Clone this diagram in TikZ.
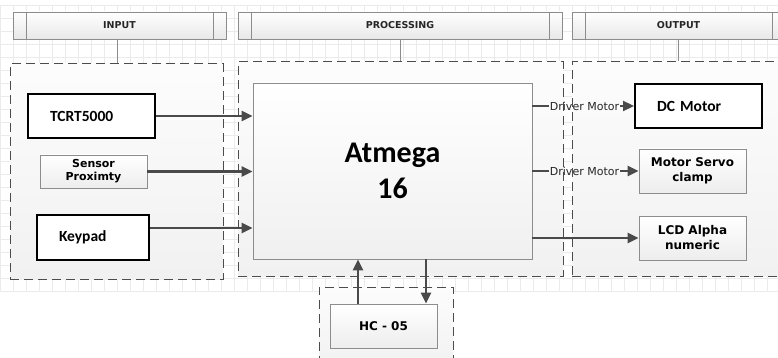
\documentclass[tikz,border=0pt]{standalone}
\usepackage{fontspec}
\setmainfont{DejaVu Sans}
\newfontfamily\calib{Carlito}
\usetikzlibrary{arrows.meta}
\definecolor{GridGrey}{HTML}{EBEBEB}
\definecolor{LineGrey}{HTML}{4A4A4A}
\definecolor{EdgeGrey}{HTML}{8C8C8C}

\begin{document}
\begin{tikzpicture}[x=1pt, y=-1pt,
    gridline/.style={GridGrey, line width=0.5pt},
    hdr/.style={draw=EdgeGrey, line width=0.8pt, top color=white, bottom color=gray!18,
                minimum height=27pt, inner sep=0pt, text=black!85,
                font=\bfseries\fontsize{9.5}{11}\selectfont},
    panel/.style={draw=black!70, line width=1pt, dash pattern=on 9pt off 5pt,
                  top color=gray!2, bottom color=gray!11, inner sep=0pt},
    thickbox/.style={draw=black, line width=2pt, fill=white, align=left,
                     inner xsep=22pt, inner ysep=0pt,
                     font=\calib\bfseries\fontsize{15.5}{18}\selectfont},
    softbox/.style={draw=EdgeGrey, line width=0.8pt, top color=white, bottom color=gray!14,
                    align=center, inner sep=0pt,
                    font=\bfseries\fontsize{12}{15}\selectfont},
    dlabel/.style={inner sep=1pt, text=black!85, font=\fontsize{11}{12}\selectfont},
    arr/.style={LineGrey, line width=2.2pt, -{Triangle[length=11pt, width=10pt]}}]
  \clip (0,0) rectangle (778,358);
  \fill[white] (0,0) rectangle (778,358);
  \foreach \gx in {0,13,...,778} \draw[gridline] (\gx,5) -- (\gx,292);
  \foreach \gy in {5,18,...,292} \draw[gridline] (0,\gy) -- (778,\gy);

  \node[hdr, minimum width=213pt] (hin)  at (119.5,25.5) {INPUT};
  \node[hdr, minimum width=324pt] (hpr)  at (400,25.5)   {PROCESSING};
  \node[hdr, minimum width=213pt] (hout) at (678.5,25.5) {OUTPUT};
  \foreach \h in {hin,hpr,hout} {
    \draw[EdgeGrey, line width=0.8pt] ([xshift=14pt]\h.north west) -- ([xshift=14pt]\h.south west);
    \draw[EdgeGrey, line width=0.8pt] ([xshift=-13pt]\h.north east) -- ([xshift=-13pt]\h.south east);
  }

  \node[panel, minimum width=213pt, minimum height=215pt] (pin)  at (116.5,171.5) {};
  \node[panel, minimum width=325pt, minimum height=214pt] (ppr)  at (400.5,169)   {};
  \node[panel, minimum width=218pt, minimum height=214pt] (pout) at (681,169)     {};
  \node[panel, minimum width=134pt, minimum height=83pt]  (phc)  at (386,328.5)   {};
  \draw[EdgeGrey, line width=1pt] ([xshift=-2pt]hin.south) -- ([xshift=-2pt]hin.south |- pin.north);
  \draw[EdgeGrey, line width=1pt] (hpr.south) -- (hpr.south |- ppr.north);
  \draw[EdgeGrey, line width=1pt] (hout.south) -- (hout.south |- pout.north);

  \node[draw=EdgeGrey, line width=0.8pt, top color=white, bottom color=gray!12,
        minimum width=279pt, minimum height=176pt, align=center,
        font=\calib\bfseries\fontsize{30}{36}\selectfont] (atm) at (392.5,171) {Atmega\\16};

  \node[thickbox, text width=83pt, minimum height=44pt] (tcrt) at (91.5,116) {TCRT5000};
  \node[softbox, minimum width=107pt, minimum height=33pt,
        font=\bfseries\fontsize{11}{13}\selectfont] (sens) at (93.5,171.5) {Sensor\\Proximty};
  \node[thickbox, text width=68pt, minimum height=45pt] (kp) at (93,237) {Keypad};

  \node[thickbox, text width=83pt, minimum height=44pt] (dcm) at (698.5,106) {DC Motor};
  \node[softbox, minimum width=107pt, minimum height=44pt] (servo) at (692.5,171) {Motor Servo\\clamp};
  \node[softbox, minimum width=107pt, minimum height=44pt] (lcd) at (692.5,238) {LCD Alpha\\numeric};

  \node[softbox, minimum width=107pt, minimum height=44pt] (hc) at (383.5,326) {HC - 05};

  \draw[arr] (tcrt.east) -- (tcrt.east -| atm.west);
  \draw[arr] (sens.east) -- (sens.east -| atm.west);
  \coordinate (kpo) at ([yshift=9pt]kp.east);
  \draw[arr] (kpo) -- (kpo -| atm.west);

  \node[dlabel] (dm1) at (584.5,106) {Driver Motor};
  \node[dlabel] (dm2) at (584.5,171) {Driver Motor};
  \draw[LineGrey, line width=2.2pt] (dm1.west -| atm.east) -- (dm1.west);
  \draw[arr] (dm1.east) -- (dcm.west);
  \draw[LineGrey, line width=2.2pt] (dm2.west -| atm.east) -- (dm2.west);
  \draw[arr] (dm2.east) -- (servo.west);
  \draw[arr] (lcd.west -| atm.east) -- (lcd.west);

  \coordinate (hcu) at ([xshift=-25.5pt]hc.north);
  \coordinate (hcd) at ([xshift=42.5pt]hc.north);
  \draw[arr] (hcu) -- (hcu |- atm.south);
  \draw[arr] (hcd |- atm.south) -- (hcd);
\end{tikzpicture}
\end{document}
